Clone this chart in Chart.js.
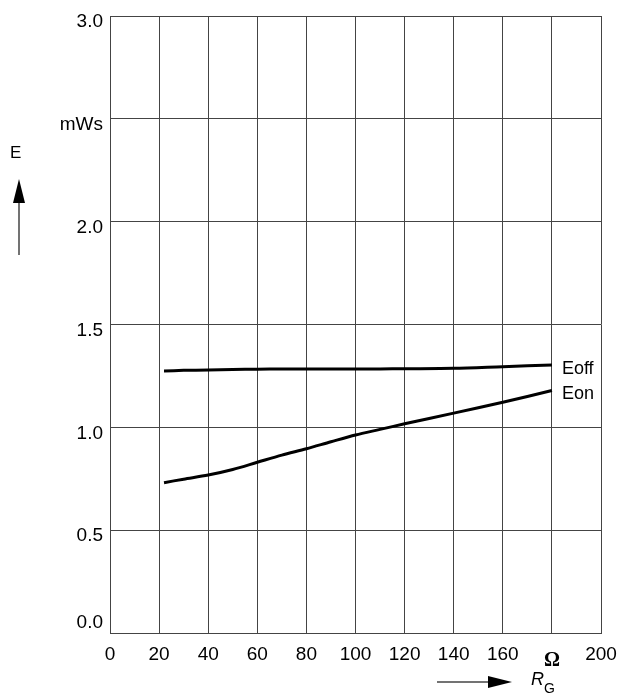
<!DOCTYPE html>
<html>
<head>
<meta charset="utf-8">
<script src="https://cdn.jsdelivr.net/npm/chart.js@4"></script>
<style>
  html, body { margin: 0; padding: 0; background: #fff; }
  #wrap { width: 622px; height: 697px; }
</style>
</head>
<body>
<div id="wrap"><canvas id="myChart"></canvas></div>
<script>
const rg = [22, 30, 40, 50, 60, 70, 80, 90, 100, 110, 120, 140, 160, 180];
const eoff = [1.274, 1.277, 1.279, 1.281, 1.283, 1.284, 1.284, 1.284, 1.284, 1.284, 1.285, 1.287, 1.295, 1.303];
const eon = [0.731, 0.748, 0.768, 0.795, 0.83, 0.865, 0.896, 0.93, 0.963, 0.99, 1.017, 1.069, 1.122, 1.179];
const seriesNames = ["Eoff", "Eon"];
const yUnitTick = 2.5;   // tick replaced by the unit
const xUnitTick = 180;   // tick replaced by Omega

const font = "'Liberation Sans', Arial, sans-serif";
const gridColor = "#444";

const toPoints = (ys) => rg.map((x, i) => ({ x, y: ys[i] }));

// the y labels sit a little below their lines, except 0.0 which sits above
// (done with a blank second line and a per-tick line height)
const yLabel = (v) => {
  const t = v === yUnitTick ? "mWs" : v.toFixed(1);
  return v === 0 ? [t, ""] : ["", t];
};
const yLineHeight = (ctx) => (ctx.tick && ctx.tick.value === 0 ? "20px" : "12px");

const labels = {
  id: "labels",
  afterDraw(chart) {
    const { ctx, scales } = chart;
    ctx.save();
    ctx.fillStyle = "#000";
    ctx.strokeStyle = "#444";
    ctx.lineWidth = 1.5;

    // series names at the end of each curve
    ctx.font = "18px " + font;
    ctx.textBaseline = "middle";
    ctx.textAlign = "left";
    chart.data.datasets.forEach((ds, i) => {
      const pts = chart.getDatasetMeta(i).data;
      const last = pts[pts.length - 1];
      ctx.fillText(ds.label, last.x + 10, last.y + 4);
    });

    // Omega in place of the 180 tick
    ctx.font = "bold 20px 'Liberation Serif', serif";
    ctx.textAlign = "center";
    ctx.fillText("\u03A9", scales.x.getPixelForValue(xUnitTick), 661);

    // y quantity with arrow
    ctx.font = "17px " + font;
    ctx.textAlign = "left";
    ctx.fillText("E", 10, 153);
    ctx.beginPath();
    ctx.moveTo(19, 255);
    ctx.lineTo(19, 200);
    ctx.stroke();
    ctx.beginPath();
    ctx.moveTo(19, 179);
    ctx.lineTo(25, 203);
    ctx.lineTo(13, 203);
    ctx.closePath();
    ctx.fill();

    // x quantity with arrow
    ctx.beginPath();
    ctx.moveTo(437, 682);
    ctx.lineTo(492, 682);
    ctx.stroke();
    ctx.beginPath();
    ctx.moveTo(512, 682);
    ctx.lineTo(488, 676);
    ctx.lineTo(488, 688);
    ctx.closePath();
    ctx.fill();
    ctx.font = "italic 18px " + font;
    ctx.fillText("R", 531, 680);
    ctx.font = "14px " + font;
    ctx.fillText("G", 544, 689);
    ctx.restore();
  },
};

new Chart(document.getElementById("myChart"), {
  type: "line",
  data: {
    datasets: [
      { label: seriesNames[0], data: toPoints(eoff) },
      { label: seriesNames[1], data: toPoints(eon) },
    ],
  },
  options: {
    responsive: true,
    maintainAspectRatio: false,
    animation: false,
    layout: { padding: { left: 0, right: 21, top: 16, bottom: 0 } },
    elements: {
      line: { borderColor: "#000", borderWidth: 3, tension: 0.3 },
      point: { radius: 0 },
    },
    plugins: { legend: { display: false }, tooltip: { enabled: false } },
    scales: {
      x: {
        type: "linear",
        min: 0,
        max: 200,
        afterFit: (s) => {
          s.height = 64;
          s.paddingLeft = 0;
          s.paddingRight = 0;
        },
        grid: { color: gridColor, drawTicks: false },
        border: { color: gridColor },
        ticks: {
          stepSize: 20,
          padding: 10,
          color: "#000",
          font: { family: font, size: 19 },
          maxRotation: 0,
          callback: (v) => (v === xUnitTick ? "" : v),
        },
      },
      y: {
        min: 0,
        max: 3,
        afterFit: (s) => {
          s.width = 110;
          s.paddingTop = 0;
          s.paddingBottom = 0;
        },
        grid: { color: gridColor, drawTicks: false },
        border: { color: gridColor },
        ticks: {
          stepSize: 0.5,
          padding: 7,
          color: "#000",
          font: (ctx) => ({ family: font, size: 19, lineHeight: yLineHeight(ctx) }),
          callback: yLabel,
        },
      },
    },
  },
  plugins: [labels],
});
</script>
</body>
</html>
